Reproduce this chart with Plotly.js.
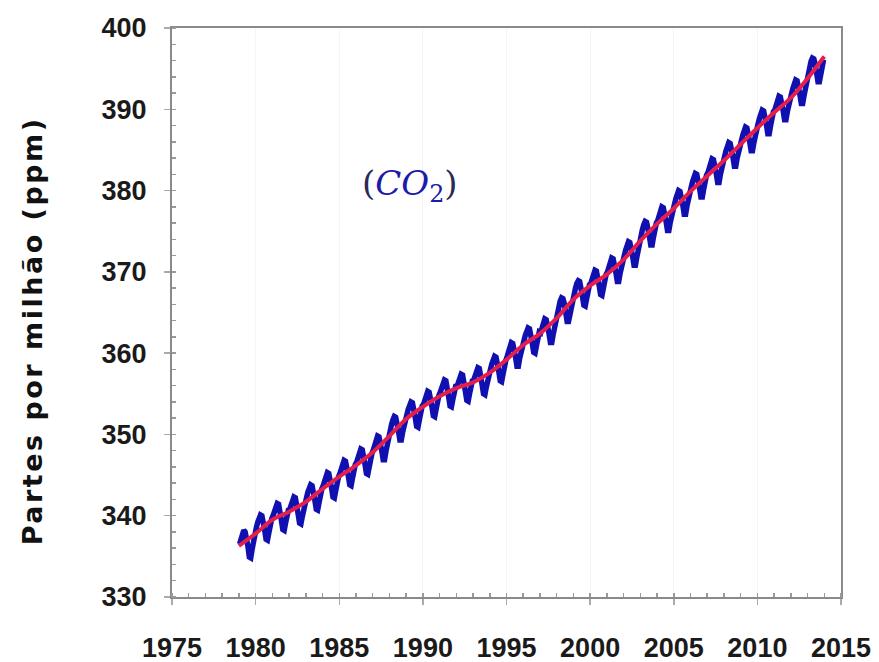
<!DOCTYPE html>
<html>
<head>
<meta charset="utf-8">
<script src="https://cdn.plot.ly/plotly-3.0.1.min.js"></script>
<style>
  html, body { margin: 0; padding: 0; background: #ffffff; }
  #chart { width: 879px; height: 662px; }
  .annotation-text.ytitle-text { letter-spacing: 2.5px; }
</style>
</head>
<body>
<div id="chart"></div>
<script>
// Monthly mean atmospheric CO2 (ppm), one row per year, Jan..Dec
const firstYear = 1979;
const co2Monthly = [
  336.5, 337.2, 337.8, 338.2, 338.0, 337.3, 336.2, 334.9, 334.8, 335.9, 337.0, 337.6, // 1979
  338.5, 339.2, 339.8, 340.1, 340.0, 339.3, 338.2, 337.1, 337.0, 337.9, 339.0, 339.6, // 1980
  340.0, 340.7, 341.2, 341.5, 341.4, 340.7, 339.4, 338.3, 338.2, 339.1, 340.1, 340.7, // 1981
  340.8, 341.5, 342.0, 342.3, 342.2, 341.5, 340.2, 339.1, 339.0, 339.9, 340.9, 341.5, // 1982
  342.2, 342.9, 343.5, 343.8, 343.7, 343.0, 341.9, 340.8, 340.7, 341.6, 342.7, 343.3, // 1983
  343.7, 344.4, 345.0, 345.3, 345.2, 344.5, 343.4, 342.3, 342.2, 343.1, 344.2, 344.8, // 1984
  345.2, 345.9, 346.5, 346.8, 346.7, 346.0, 344.9, 343.8, 343.7, 344.6, 345.7, 346.3, // 1985
  346.6, 347.3, 347.9, 348.2, 348.1, 347.4, 346.3, 345.2, 345.1, 346.0, 347.1, 347.7, // 1986
  348.1, 348.8, 349.4, 349.8, 349.7, 349.1, 348.0, 346.9, 346.9, 347.9, 348.9, 349.6, // 1987
  350.5, 351.2, 351.8, 352.2, 352.1, 351.5, 350.4, 349.3, 349.3, 350.3, 351.3, 352.0, // 1988
  352.4, 353.1, 353.7, 354.0, 353.9, 353.2, 352.1, 351.0, 350.9, 351.8, 352.9, 353.5, // 1989
  353.7, 354.4, 355.0, 355.3, 355.2, 354.5, 353.4, 352.3, 352.2, 353.1, 354.2, 354.8, // 1990
  355.2, 355.9, 356.4, 356.7, 356.6, 355.9, 354.6, 353.5, 353.4, 354.3, 355.3, 355.9, // 1991
  355.9, 356.6, 357.1, 357.4, 357.3, 356.6, 355.3, 354.2, 354.1, 355.0, 356.0, 356.6, // 1992
  356.7, 357.4, 357.9, 358.2, 358.1, 357.4, 356.1, 355.0, 354.9, 355.8, 356.8, 357.4, // 1993
  358.0, 358.7, 359.3, 359.6, 359.5, 358.8, 357.7, 356.6, 356.5, 357.4, 358.5, 359.1, // 1994
  359.6, 360.3, 360.9, 361.3, 361.2, 360.6, 359.5, 358.4, 358.4, 359.4, 360.4, 361.1, // 1995
  361.5, 362.2, 362.8, 363.1, 363.0, 362.3, 361.2, 360.1, 360.0, 360.9, 362.0, 362.6, // 1996
  362.5, 363.2, 363.8, 364.2, 364.1, 363.5, 362.4, 361.3, 361.3, 362.3, 363.3, 364.0, // 1997
  365.1, 365.8, 366.4, 366.8, 366.7, 366.1, 365.0, 363.9, 363.9, 364.9, 365.9, 366.6, // 1998
  367.3, 368.0, 368.6, 368.9, 368.8, 368.1, 367.0, 365.9, 365.8, 366.7, 367.8, 368.4, // 1999
  368.6, 369.3, 369.9, 370.2, 370.1, 369.4, 368.3, 367.2, 367.1, 368.0, 369.1, 369.7, // 2000
  370.0, 370.7, 371.3, 371.7, 371.6, 371.0, 369.9, 368.8, 368.8, 369.8, 370.8, 371.5, // 2001
  372.0, 372.7, 373.3, 373.7, 373.6, 373.0, 371.9, 370.8, 370.8, 371.8, 372.8, 373.5, // 2002
  374.5, 375.2, 375.8, 376.2, 376.1, 375.5, 374.4, 373.3, 373.3, 374.3, 375.3, 376.0, // 2003
  376.3, 377.0, 377.6, 378.0, 377.9, 377.3, 376.2, 375.1, 375.1, 376.1, 377.1, 377.8, // 2004
  378.3, 379.0, 379.6, 380.0, 379.9, 379.3, 378.2, 377.1, 377.1, 378.1, 379.1, 379.8, // 2005
  380.4, 381.1, 381.7, 382.1, 382.0, 381.4, 380.3, 379.2, 379.2, 380.2, 381.2, 381.9, // 2006
  382.2, 382.9, 383.5, 383.9, 383.8, 383.2, 382.1, 381.0, 381.0, 382.0, 383.0, 383.7, // 2007
  384.2, 384.9, 385.5, 385.9, 385.8, 385.2, 384.1, 383.0, 383.0, 384.0, 385.0, 385.7, // 2008
  386.1, 386.8, 387.4, 387.8, 387.7, 387.1, 386.0, 384.9, 384.9, 385.9, 386.9, 387.6, // 2009
  388.2, 388.9, 389.5, 389.9, 389.8, 389.2, 388.1, 387.0, 387.0, 388.0, 389.0, 389.7, // 2010
  389.9, 390.6, 391.2, 391.6, 391.5, 390.9, 389.8, 388.7, 388.7, 389.7, 390.7, 391.4, // 2011
  391.9, 392.6, 393.2, 393.6, 393.5, 392.9, 391.8, 390.7, 390.7, 391.7, 392.7, 393.4, // 2012
  394.6, 395.3, 395.9, 396.3, 396.2, 395.6, 394.5, 393.4, 393.4, 394.4, 395.4, 396.1  // 2013
];

// Deseasonalised trend (ppm) at the start of each year, 1979..2014
const trendYears = [
  1979, 1980, 1981, 1982, 1983, 1984, 1985, 1986, 1987, 1988, 1989, 1990,
  1991, 1992, 1993, 1994, 1995, 1996, 1997, 1998, 1999, 2000, 2001, 2002,
  2003, 2004, 2005, 2006, 2007, 2008, 2009, 2010, 2011, 2012, 2013, 2014
];
const trendCo2 = [
  336.3, 337.8, 339.5, 340.5, 341.7, 343.3, 344.8, 346.2, 347.8, 349.8, 351.9, 353.4,
  354.7, 355.7, 356.4, 357.6, 359.2, 361.0, 362.4, 364.3, 366.6, 368.3, 369.7, 371.5,
  373.8, 375.9, 377.8, 379.9, 381.8, 383.7, 385.7, 387.7, 389.6, 391.4, 393.8, 396.5
];

// Axis ticks
const xTicks = [1975, 1980, 1985, 1990, 1995, 2000, 2005, 2010, 2015];
const yTicks = [330, 340, 350, 360, 370, 380, 390, 400];

const yTitle = 'Partes por milhão (ppm)';
const gasLabel = '<span style="color:#2a2a55">(</span><i>CO</i><sub>2</sub><span style="color:#2a2a55">)</span>';

// Decimal-year position of each monthly value (mid-month)
const monthX = co2Monthly.map((_, i) => firstYear + (i + 0.5) / 12);

const monthlyTrace = {
  x: monthX,
  y: co2Monthly,
  type: 'scatter',
  mode: 'lines',
  line: { color: '#1010b0', width: 5.5 },
  hoverinfo: 'skip'
};

const trendTrace = {
  x: trendYears,
  y: trendCo2,
  type: 'scatter',
  mode: 'lines',
  line: { color: '#e61e4b', width: 4, shape: 'spline' },
  hoverinfo: 'skip'
};

const tickFontX = { family: '"Liberation Sans Narrow", "Liberation Sans", Arial, sans-serif', size: 27, color: '#1a1a1a', weight: 'bold' };
const tickFontY = { family: '"Liberation Sans", Arial, sans-serif', size: 27, color: '#1a1a1a', weight: 'bold' };

const layout = {
  width: 879,
  height: 662,
  margin: { l: 172, r: 38, t: 28, b: 65 },
  paper_bgcolor: '#ffffff',
  plot_bgcolor: '#ffffff',
  showlegend: false,
  xaxis: {
    range: [1975, 2015],
    tickvals: xTicks,
    ticktext: xTicks.map(String),
    tickfont: tickFontX,
    ticks: 'outside',
    ticklen: 6,
    tickwidth: 1.5,
    tickcolor: '#aaaaaa',
    ticklabelstandoff: 20,
    minor: { dtick: 1, ticks: 'inside', ticklen: 4, tickcolor: '#9a9a9a', showgrid: false },
    showline: true,
    linecolor: '#8a8a8a',
    linewidth: 2,
    mirror: true,
    showgrid: true,
    gridcolor: '#f5f5f5',
    zeroline: false,
    fixedrange: true
  },
  yaxis: {
    range: [330, 400],
    tickvals: yTicks,
    ticktext: yTicks.map(String),
    tickfont: tickFontY,
    ticks: 'outside',
    ticklen: 6,
    tickwidth: 1.5,
    tickcolor: '#aaaaaa',
    ticklabelstandoff: 12,
    minor: { dtick: 2, ticks: 'inside', ticklen: 4, tickcolor: '#9a9a9a', showgrid: false },
    showline: true,
    linecolor: '#8a8a8a',
    linewidth: 2,
    mirror: true,
    showgrid: false,
    zeroline: false,
    fixedrange: true
  },
  annotations: [
    {
      text: yTitle,
      xref: 'paper', yref: 'paper',
      x: -0.208, y: 0.468,
      xanchor: 'center', yanchor: 'middle',
      textangle: -90,
      showarrow: false,
      font: { family: '"DejaVu Sans", Verdana, sans-serif', size: 27, color: '#111111', weight: 'bold' },
      captureevents: false
    },
    {
      text: gasLabel,
      xref: 'x', yref: 'y',
      x: 1989.2, y: 380.6,
      xanchor: 'center', yanchor: 'middle',
      showarrow: false,
      font: { family: '"DejaVu Serif", "Liberation Serif", serif', size: 34, color: '#1c1ca8' }
    }
  ]
};

Plotly.newPlot('chart', [monthlyTrace, trendTrace], layout, { staticPlot: true, displayModeBar: false }).then(() => {
  // widen the spacing of the rotated axis label
  const notes = document.querySelectorAll('.annotation-text');
  if (notes.length) notes[0].classList.add('ytitle-text');
});
</script>
</body>
</html>
